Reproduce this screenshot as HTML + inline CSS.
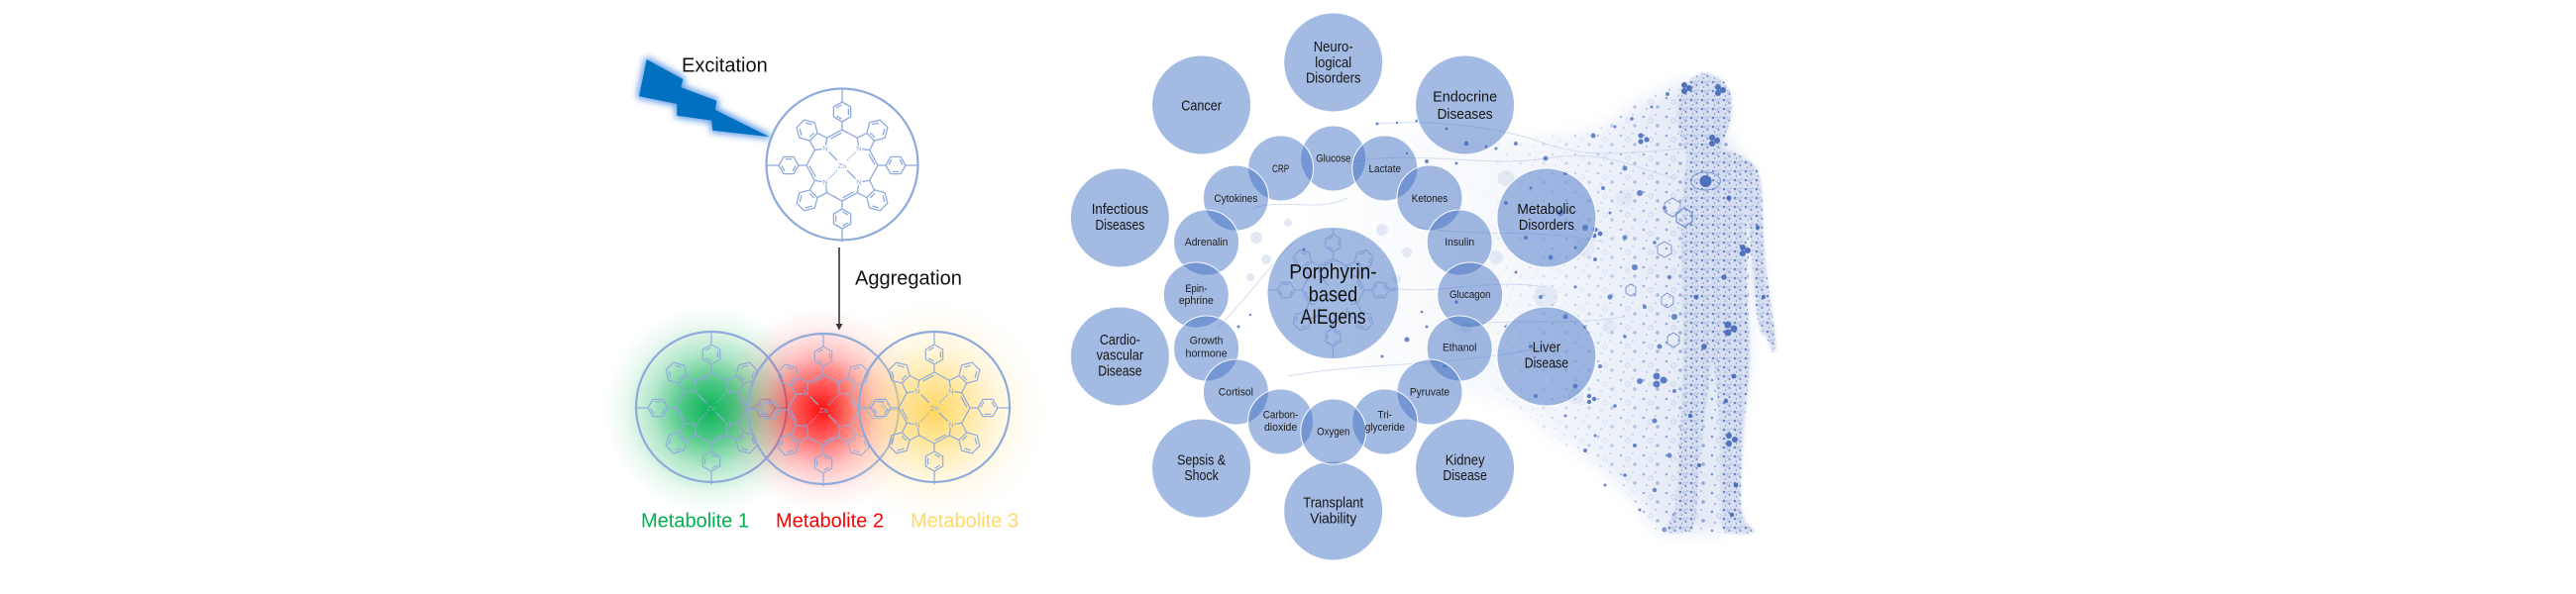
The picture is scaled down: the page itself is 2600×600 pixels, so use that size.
<!DOCTYPE html>
<html><head><meta charset="utf-8"><style>
html,body{margin:0;padding:0;background:#fff;}
svg{display:block;}
text{font-family:"Liberation Sans",Arial,sans-serif;}
</style></head><body>
<svg width="2600" height="600" viewBox="0 0 2600 600" xmlns="http://www.w3.org/2000/svg">
<defs>
 <radialGradient id="gG" cx="0.5" cy="0.5" r="0.5">
  <stop offset="0" stop-color="#00b050" stop-opacity="0.95"/>
  <stop offset="0.25" stop-color="#00b050" stop-opacity="0.72"/>
  <stop offset="0.55" stop-color="#00b050" stop-opacity="0.3"/>
  <stop offset="0.8" stop-color="#00b050" stop-opacity="0.08"/>
  <stop offset="1" stop-color="#00b050" stop-opacity="0"/>
 </radialGradient>
 <radialGradient id="gR" cx="0.5" cy="0.5" r="0.5">
  <stop offset="0" stop-color="#ff0000" stop-opacity="0.95"/>
  <stop offset="0.25" stop-color="#ff1010" stop-opacity="0.7"/>
  <stop offset="0.55" stop-color="#ff2020" stop-opacity="0.28"/>
  <stop offset="0.8" stop-color="#ff3030" stop-opacity="0.07"/>
  <stop offset="1" stop-color="#ff3030" stop-opacity="0"/>
 </radialGradient>
 <radialGradient id="gY" cx="0.5" cy="0.5" r="0.5">
  <stop offset="0" stop-color="#ffd14d" stop-opacity="0.9"/>
  <stop offset="0.3" stop-color="#ffd966" stop-opacity="0.6"/>
  <stop offset="0.6" stop-color="#ffe08a" stop-opacity="0.25"/>
  <stop offset="0.85" stop-color="#ffe8a8" stop-opacity="0.06"/>
  <stop offset="1" stop-color="#ffe8a8" stop-opacity="0"/>
 </radialGradient>
 <filter id="bglow" x="-40%" y="-60%" width="180%" height="220%">
  <feMorphology in="SourceAlpha" operator="dilate" radius="2" result="d"/>
  <feGaussianBlur in="d" stdDeviation="3.5" result="b"/>
  <feFlood flood-color="#5f9be6"/>
  <feComposite in2="b" operator="in" result="g"/>
  <feMerge><feMergeNode in="g"/><feMergeNode in="SourceGraphic"/></feMerge>
 </filter>
 <filter id="soft" x="-20%" y="-20%" width="140%" height="140%"><feGaussianBlur stdDeviation="8"/></filter>
 <filter id="soft2" x="-20%" y="-20%" width="140%" height="140%"><feGaussianBlur stdDeviation="1.5"/></filter>
 <linearGradient id="fanG" x1="1300" y1="0" x2="1710" y2="0" gradientUnits="userSpaceOnUse">
  <stop offset="0" stop-color="#f1f4fa" stop-opacity="0"/>
  <stop offset="0.5" stop-color="#f1f4fa" stop-opacity="0.6"/>
  <stop offset="1" stop-color="#e4eaf6" stop-opacity="1"/>
 </linearGradient>
 <linearGradient id="maskG" x1="1480" y1="0" x2="1720" y2="0" gradientUnits="userSpaceOnUse">
  <stop offset="0" stop-color="#fff" stop-opacity="0"/>
  <stop offset="0.6" stop-color="#fff" stop-opacity="0.35"/>
  <stop offset="1" stop-color="#fff" stop-opacity="0.7"/>
 </linearGradient>
 <mask id="fanMask" maskUnits="userSpaceOnUse" x="1200" y="0" width="600" height="600">
  <rect x="1200" y="0" width="600" height="600" fill="url(#maskG)"/>
 </mask>
 <pattern id="pf" width="23" height="19" patternUnits="userSpaceOnUse">
  <circle cx="3" cy="4" r="1.3" fill="#4f73c2"/>
  <circle cx="15" cy="2" r="0.8" fill="#4f73c2"/>
  <circle cx="17" cy="13" r="1.8" fill="#6a88cb"/>
  <circle cx="6" cy="15" r="0.9" fill="#4f73c2"/>
  <circle cx="10" cy="8" r="2.2" fill="none" stroke="#8aa2d6" stroke-width="0.6"/>
 </pattern>
 <pattern id="pb" width="11" height="9" patternUnits="userSpaceOnUse">
  <circle cx="2" cy="2" r="1.3" fill="#4a6bb8"/>
  <circle cx="7.5" cy="5" r="1.0" fill="#4a6bb8"/>
  <circle cx="3.5" cy="7" r="0.7" fill="#5676c0"/>
  <circle cx="9" cy="1" r="0.6" fill="#5676c0"/>
  <circle cx="6" cy="2.5" r="1.4" fill="none" stroke="#7d96d0" stroke-width="0.5"/>
 </pattern>
 <g id="q" fill="none" stroke-linejoin="round" stroke-linecap="round">
  <path d="M-20.7,-16.4 L-27.7,-15.3 L-32.6,-24.9 L-24.9,-32.6 L-15.3,-27.7 L-16.4,-20.7"/>
  <path d="M-15.3,-27.7 L0,-36 L15.3,-27.7"/>
  <path d="M-11,-27.2 L-1.1,-32.6"/>
  <path d="M-32.6,-24.9 L-43.1,-27.7 L-45.9,-38.2 L-38.2,-45.9 L-27.7,-43.1 L-24.9,-32.6"/>
  <path d="M-41.2,-30.9 L-42.7,-36.4 M-36.4,-42.7 L-30.9,-41.2 M-32.6,-28.6 L-28.6,-32.6"/>
  <path d="M0,-36 L0,-44 M0,-44 L8.66,-49 L8.66,-59 L0,-64 L-8.66,-59 L-8.66,-49 Z M0,-64 L0,-77"/>
  <path d="M6.4,-51.2 L6.4,-56.8 M-0.96,-60.85 L-5.44,-58.25 M-5.44,-49.75 L-0.96,-47.15"/>
 </g>
 <g id="mol">
  <use href="#q"/>
  <use href="#q" transform="rotate(90)"/>
  <use href="#q" transform="rotate(180)"/>
  <use href="#q" transform="rotate(270)"/>
  <path d="M-13.5,-13.5 L-5,-5 M13.5,13.5 L5,5" fill="none"/>
  <path d="M13.5,-13.5 L5,-5 M-13.5,13.5 L-5,5" fill="none" stroke-dasharray="1.3 1.3"/>
 </g>
 <clipPath id="cc"><circle cx="1345.5" cy="296" r="65"/></clipPath>
 <clipPath id="fanClip"><path d="M1705,80 L1660,100 L1610,132 L1540,140 L1450,130 L1380,135 L1330,160 L1290,200 L1265,260 L1275,320 L1310,360 L1380,380 L1460,395 L1500,403 L1533,413 L1567,440 L1610,470 L1647,503 L1673,537 L1710,538 L1740,538 L1765,360 L1765,170 Z"/></clipPath>
</defs>

<rect width="2600" height="600" fill="#fff"/>

<!-- ===== LEFT ===== -->
<polygon filter="url(#bglow)" fill="#0070c0" points="652.7,60 689.3,80 687.3,88.3 723.3,101.7 722,111 776.7,138.3 719.3,131.7 718.3,121.7 683.3,116.7 683.3,105 645,97.3"/>
<text x="688" y="72.5" font-size="20" fill="#111">Excitation</text>

<g transform="translate(850,167)" stroke="#8faadc" stroke-width="1.3">
 <use href="#mol"/>
</g>
<circle cx="850" cy="166" r="76.5" fill="none" stroke="#8eaadb" stroke-width="2.2"/>
<g font-size="7.5" fill="#8faadc" text-anchor="middle">
 <text x="833" y="152.7">N</text><text x="867" y="152.7">N</text>
 <text x="833" y="186.7">N</text><text x="867" y="186.7">N</text>
 <text x="850" y="170">Zn</text>
</g>

<line x1="847" y1="250" x2="847" y2="328" stroke="#333" stroke-width="1.6"/>
<polygon points="843.5,327 850.5,327 847,333.5" fill="#333"/>
<text x="863" y="287.3" font-size="20" fill="#111">Aggregation</text>

<circle cx="716" cy="414" r="106" fill="url(#gG)"/>
<g transform="translate(718,412)" stroke="#8faadc" stroke-width="1.25" opacity="0.9"><use href="#mol"/></g>
<circle cx="718" cy="411" r="76" fill="none" stroke="#8eaadb" stroke-width="2.2"/>
<g font-size="7.5" fill="#8faadc" text-anchor="middle">
 <text x="701" y="397.7">N</text><text x="735" y="397.7">N</text>
 <text x="701" y="431.7">N</text><text x="735" y="431.7">N</text>
 <text x="718" y="415">Zn</text>
</g>
<circle cx="829" cy="414" r="104" fill="url(#gR)"/>
<g transform="translate(831,414)" stroke="#8faadc" stroke-width="1.25" opacity="0.9"><use href="#mol"/></g>
<circle cx="831" cy="413" r="76" fill="none" stroke="#8eaadb" stroke-width="2.2"/>
<g font-size="7.5" fill="#8faadc" text-anchor="middle">
 <text x="814" y="399.7">N</text><text x="848" y="399.7">N</text>
 <text x="814" y="433.7">N</text><text x="848" y="433.7">N</text>
 <text x="831" y="417">Zn</text>
</g>
<circle cx="943" cy="416" r="115" fill="url(#gY)"/>
<g transform="translate(943,412)" stroke="#8faadc" stroke-width="1.25" opacity="0.95"><use href="#mol"/></g>
<circle cx="943" cy="411" r="76" fill="none" stroke="#8eaadb" stroke-width="2.2"/>
<g font-size="7.5" fill="#8faadc" text-anchor="middle">
 <text x="926" y="397.7">N</text><text x="960" y="397.7">N</text>
 <text x="926" y="431.7">N</text><text x="960" y="431.7">N</text>
 <text x="943" y="415">Zn</text>
</g>

<text x="647" y="532.7" font-size="20" fill="#00b050">Metabolite 1</text>
<text x="783" y="532.7" font-size="20" fill="#ff0000">Metabolite 2</text>
<text x="919" y="532.7" font-size="20" fill="#ffd966">Metabolite 3</text>

<!-- ===== RIGHT: fan + figure ===== -->
<path d="M1705,80 L1660,100 L1610,132 L1540,140 L1450,130 L1380,135 L1330,160 L1290,200 L1265,260 L1275,320 L1310,360 L1380,380 L1460,395 L1500,403 L1533,413 L1567,440 L1610,470 L1647,503 L1673,537 L1710,538 L1740,538 L1765,360 L1765,170 Z" fill="url(#fanG)" filter="url(#soft)"/>
<g fill="#e2e8f4">
 <circle cx="1600" cy="250" r="10"/><circle cx="1560" cy="300" r="12"/><circle cx="1640" cy="200" r="9"/>
 <circle cx="1520" cy="180" r="8"/><circle cx="1590" cy="400" r="8"/><circle cx="1625" cy="330" r="7"/>
 <circle cx="1268" cy="240" r="6"/><circle cx="1278" cy="262" r="5"/><circle cx="1262" cy="280" r="4"/>
 <circle cx="1300" cy="225" r="4"/><circle cx="1395" cy="232" r="6"/><circle cx="1420" cy="255" r="5"/>
 <circle cx="1410" cy="282" r="4"/><circle cx="1480" cy="330" r="6"/><circle cx="1510" cy="260" r="7"/>
</g>
<g fill="none" stroke="#d0d9ee" stroke-width="0.9">
 <path d="M1390,125 C1450,120 1520,130 1560,145 S1640,155 1700,150"/>
 <path d="M1360,165 C1420,150 1500,170 1560,160 S1650,170 1690,180"/>
 <path d="M1470,330 C1520,320 1580,330 1640,320"/>
 <path d="M1300,380 C1380,365 1460,372 1560,350"/>
 <path d="M1430,230 C1500,240 1560,230 1620,245"/>
 <path d="M1230,330 C1260,300 1280,270 1305,245"/>
 <path d="M1265,210 C1300,200 1330,215 1360,200"/>
 <path d="M1400,290 C1450,300 1500,280 1560,290"/>
</g>
<rect x="1380" y="90" width="400" height="460" fill="url(#pf)" mask="url(#fanMask)" clip-path="url(#fanClip)"/>
<g fill="#5b7cc4" opacity="0.9">
 <circle cx="1608" cy="137" r="2.5"/><circle cx="1630" cy="128" r="1.5"/><circle cx="1647" cy="120" r="1.8"/>
 <circle cx="1667" cy="108" r="1.5"/><circle cx="1683" cy="95" r="2"/><circle cx="1640" cy="170" r="2.5"/>
 <circle cx="1618" cy="190" r="2"/><circle cx="1655" cy="195" r="3"/><circle cx="1680" cy="210" r="2"/>
 <circle cx="1625" cy="215" r="1.5"/><circle cx="1600" cy="230" r="3"/><circle cx="1640" cy="240" r="2.5"/>
 <circle cx="1670" cy="245" r="1.8"/><circle cx="1610" cy="262" r="2"/><circle cx="1650" cy="270" r="3"/>
 <circle cx="1685" cy="280" r="2.2"/><circle cx="1590" cy="290" r="1.5"/><circle cx="1625" cy="300" r="2.5"/>
 <circle cx="1660" cy="310" r="2"/><circle cx="1690" cy="320" r="3"/><circle cx="1600" cy="330" r="2"/>
 <circle cx="1640" cy="340" r="1.8"/><circle cx="1675" cy="350" r="2.5"/><circle cx="1615" cy="370" r="2"/>
 <circle cx="1655" cy="385" r="3"/><circle cx="1690" cy="395" r="2"/><circle cx="1630" cy="410" r="1.8"/>
 <circle cx="1670" cy="425" r="2.5"/><circle cx="1610" cy="440" r="1.5"/><circle cx="1650" cy="450" r="2"/>
 <circle cx="1685" cy="460" r="2.5"/><circle cx="1640" cy="480" r="1.8"/><circle cx="1670" cy="495" r="2.2"/>
 <circle cx="1655" cy="515" r="1.5"/><circle cx="1690" cy="520" r="2"/><circle cx="1680" cy="535" r="2.5"/>
 <circle cx="1510" cy="150" r="1.5"/><circle cx="1530" cy="145" r="2"/><circle cx="1560" cy="160" r="2.5"/>
 <circle cx="1580" cy="175" r="2"/><circle cx="1545" cy="190" r="1.5"/><circle cx="1520" cy="205" r="2"/>
 <circle cx="1575" cy="215" r="3"/><circle cx="1540" cy="240" r="2"/><circle cx="1565" cy="260" r="2.5"/>
 <circle cx="1590" cy="250" r="1.5"/><circle cx="1530" cy="275" r="1.5"/><circle cx="1555" cy="300" r="2"/>
 <circle cx="1580" cy="320" r="2.5"/><circle cx="1520" cy="330" r="1.5"/><circle cx="1545" cy="350" r="2"/>
 <circle cx="1570" cy="370" r="1.5"/><circle cx="1590" cy="390" r="2.5"/><circle cx="1550" cy="400" r="2"/>
 <circle cx="1580" cy="420" r="1.5"/><circle cx="1600" cy="455" r="2"/><circle cx="1620" cy="490" r="1.5"/>
 <circle cx="1390" cy="125" r="1.5"/><circle cx="1410" cy="124" r="1.2"/><circle cx="1430" cy="122" r="1.5"/>
 <circle cx="1460" cy="130" r="1.5"/><circle cx="1480" cy="145" r="2.5"/><circle cx="1500" cy="148" r="1.5"/>
 <circle cx="1440" cy="163" r="2"/><circle cx="1470" cy="165" r="1.5"/><circle cx="1420" cy="155" r="1.2"/>
 <circle cx="1316" cy="252" r="1.5"/><circle cx="1250" cy="330" r="1.5"/><circle cx="1262" cy="318" r="1.2"/>
 <circle cx="1420" cy="343" r="2.5"/><circle cx="1395" cy="360" r="1.5"/><circle cx="1440" cy="330" r="1.5"/>
 <circle cx="1458" cy="370" r="1.5"/><circle cx="1470" cy="305" r="1.8"/><circle cx="1435" cy="315" r="1.3"/>
</g>
<g fill="#5b7cc4">
 <circle cx="1656" cy="137" r="2.6"/><circle cx="1662" cy="141" r="2.6"/><circle cx="1656" cy="143" r="2.6"/>
 <circle cx="1610" cy="232" r="2.4"/><circle cx="1615" cy="236" r="2.4"/><circle cx="1609" cy="238" r="2.4"/>
 <circle cx="1672" cy="380" r="3.5"/><circle cx="1679" cy="384" r="3.5"/><circle cx="1672" cy="388" r="3.5"/>
 <circle cx="1604" cy="400" r="2.2"/><circle cx="1609" cy="403" r="2.2"/><circle cx="1604" cy="406" r="2.2"/>
</g>
<g fill="none" stroke="#6f8dcc" stroke-width="0.9">
 <polygon points="1680,205 1688,200 1696,205 1696,214 1688,219 1680,214"/>
 <polygon points="1673,248 1680,244 1687,248 1687,256 1680,260 1673,256"/>
 <polygon points="1677,300 1683,296 1689,300 1689,307 1683,311 1677,307"/>
 <polygon points="1641,290 1646,287 1651,290 1651,296 1646,299 1641,296"/>
 <polygon points="1683,340 1689,336 1695,340 1695,347 1689,351 1683,347"/>
</g>

<path d="M1720,74 C1738,74 1750,90 1748,110 C1747,125 1742,135 1738,145 L1740,152 C1752,155 1768,160 1774,172 C1779,185 1779,210 1780,240 C1782,275 1787,300 1790,325 L1793,352 L1789,356 L1784,343 L1777,335 C1773,320 1771,300 1769,275 C1767,250 1765,225 1763,205 C1762,240 1762,290 1765,330 C1767,360 1766,380 1762,410 C1759,440 1757,480 1757,512 L1762,528 L1772,537 L1760,540 L1740,538 L1736,525 C1737,500 1736,470 1736,440 C1735,410 1733,385 1729,362 C1724,390 1717,440 1714,480 L1712,520 L1708,536 L1690,539 L1680,537 L1690,520 C1695,470 1697,420 1699,380 C1700,330 1698,280 1697,240 C1697,210 1700,180 1703,160 C1700,150 1695,135 1693,120 C1691,100 1700,78 1720,74 Z" fill="#d6def0" filter="url(#soft2)"/>
<path d="M1720,74 C1738,74 1750,90 1748,110 C1747,125 1742,135 1738,145 L1740,152 C1752,155 1768,160 1774,172 C1779,185 1779,210 1780,240 C1782,275 1787,300 1790,325 L1793,352 L1789,356 L1784,343 L1777,335 C1773,320 1771,300 1769,275 C1767,250 1765,225 1763,205 C1762,240 1762,290 1765,330 C1767,360 1766,380 1762,410 C1759,440 1757,480 1757,512 L1762,528 L1772,537 L1760,540 L1740,538 L1736,525 C1737,500 1736,470 1736,440 C1735,410 1733,385 1729,362 C1724,390 1717,440 1714,480 L1712,520 L1708,536 L1690,539 L1680,537 L1690,520 C1695,470 1697,420 1699,380 C1700,330 1698,280 1697,240 C1697,210 1700,180 1703,160 C1700,150 1695,135 1693,120 C1691,100 1700,78 1720,74 Z" fill="url(#pb)" opacity="0.75"/>
<g fill="#5070bc">
 <circle cx="1721.5" cy="183" r="6"/>
 <circle cx="1700" cy="86" r="3"/><circle cx="1705" cy="89" r="3"/><circle cx="1700" cy="92" r="3"/>
 <circle cx="1734" cy="88" r="3"/><circle cx="1739" cy="91" r="3"/><circle cx="1734" cy="94" r="3"/>
 <circle cx="1728" cy="139" r="3"/><circle cx="1733" cy="142" r="3"/><circle cx="1728" cy="145" r="3"/>
 <circle cx="1744" cy="328" r="3.5"/><circle cx="1750" cy="332" r="3.5"/><circle cx="1744" cy="336" r="3.5"/>
 <circle cx="1745" cy="440" r="3"/><circle cx="1751" cy="444" r="3"/><circle cx="1745" cy="448" r="3"/>
 <circle cx="1759" cy="250" r="3"/><circle cx="1764" cy="253" r="3"/><circle cx="1759" cy="256" r="3"/>
 <circle cx="1750" cy="380" r="2.5"/><circle cx="1742" cy="405" r="2.2"/><circle cx="1752" cy="490" r="2.4"/>
 <circle cx="1780" cy="300" r="2"/><circle cx="1774" cy="230" r="2.2"/><circle cx="1745" cy="200" r="2.5"/>
 <circle cx="1712" cy="300" r="2.4"/><circle cx="1720" cy="350" r="2.8"/><circle cx="1706" cy="420" r="2.2"/>
 <circle cx="1715" cy="470" r="2"/><circle cx="1748" cy="520" r="2.2"/><circle cx="1740" cy="280" r="2.6"/>
</g>
<ellipse cx="1721.5" cy="183" rx="15" ry="9" fill="none" stroke="#7a94cf" stroke-width="0.9"/>
<polygon points="1692,215 1700,210 1708,215 1708,224 1700,229 1692,224" fill="none" stroke="#6f8dcc" stroke-width="1.2"/>

<!-- ===== circles ===== -->
<g fill="#4472c4" fill-opacity="0.49" stroke="#ffffff" stroke-width="1.1" stroke-opacity="0.9">
 <circle cx="1345.5" cy="296" r="66.5"/>
 <circle cx="1345.7" cy="63" r="50"/>
 <circle cx="1212.6" cy="106" r="50"/>
 <circle cx="1478.6" cy="106" r="50"/>
 <circle cx="1130.4" cy="220" r="50"/>
 <circle cx="1560.9" cy="220" r="50"/>
 <circle cx="1130.4" cy="360" r="50"/>
 <circle cx="1560.9" cy="360" r="50"/>
 <circle cx="1212.6" cy="473" r="50"/>
 <circle cx="1478.6" cy="473" r="50"/>
 <circle cx="1345.7" cy="516" r="50"/>
 <circle cx="1345.8" cy="160" r="33"/>
 <circle cx="1292.6" cy="170" r="33"/>
 <circle cx="1397.8" cy="170" r="33"/>
 <circle cx="1247.4" cy="200" r="33"/>
 <circle cx="1443" cy="200" r="33"/>
 <circle cx="1217.6" cy="245" r="33"/>
 <circle cx="1473.2" cy="245" r="33"/>
 <circle cx="1207.3" cy="298" r="33"/>
 <circle cx="1483.7" cy="298" r="33"/>
 <circle cx="1217.6" cy="352" r="33"/>
 <circle cx="1473.2" cy="352" r="33"/>
 <circle cx="1247.4" cy="396" r="33"/>
 <circle cx="1443" cy="396" r="33"/>
 <circle cx="1292.6" cy="426" r="33"/>
 <circle cx="1397.8" cy="426" r="33"/>
 <circle cx="1345.8" cy="436" r="33"/>
</g>
<g clip-path="url(#cc)">
 <g transform="translate(1345.5,293) scale(0.88)" stroke="#6a8bd0" stroke-width="1.4" opacity="0.55"><use href="#mol"/></g>
</g>

<g fill="#151515" text-anchor="middle" font-size="15">
 <text x="1345.7" y="52" textLength="40" lengthAdjust="spacingAndGlyphs">Neuro-</text>
 <text x="1345.7" y="68" textLength="37" lengthAdjust="spacingAndGlyphs">logical</text>
 <text x="1345.7" y="83.5" textLength="55.5" lengthAdjust="spacingAndGlyphs">Disorders</text>
 <text x="1212.6" y="111.7" textLength="40.6" lengthAdjust="spacingAndGlyphs">Cancer</text>
 <text x="1478.6" y="102.7" textLength="65" lengthAdjust="spacingAndGlyphs">Endocrine</text>
 <text x="1478.6" y="120" textLength="56" lengthAdjust="spacingAndGlyphs">Diseases</text>
 <text x="1130.4" y="216" textLength="57.4" lengthAdjust="spacingAndGlyphs">Infectious</text>
 <text x="1130.4" y="232" textLength="49.7" lengthAdjust="spacingAndGlyphs">Diseases</text>
 <text x="1560.9" y="216" textLength="59" lengthAdjust="spacingAndGlyphs">Metabolic</text>
 <text x="1560.9" y="232" textLength="56" lengthAdjust="spacingAndGlyphs">Disorders</text>
 <text x="1130.4" y="348" textLength="41" lengthAdjust="spacingAndGlyphs">Cardio-</text>
 <text x="1130.4" y="363.3" textLength="47.5" lengthAdjust="spacingAndGlyphs">vascular</text>
 <text x="1130.4" y="379.3" textLength="44.4" lengthAdjust="spacingAndGlyphs">Disease</text>
 <text x="1560.9" y="355.7" textLength="28.3" lengthAdjust="spacingAndGlyphs">Liver</text>
 <text x="1560.9" y="371.7" textLength="44.4" lengthAdjust="spacingAndGlyphs">Disease</text>
 <text x="1212.6" y="469.3" textLength="49" lengthAdjust="spacingAndGlyphs">Sepsis &amp;</text>
 <text x="1212.6" y="485" textLength="34.4" lengthAdjust="spacingAndGlyphs">Shock</text>
 <text x="1478.6" y="469.3" textLength="39.8" lengthAdjust="spacingAndGlyphs">Kidney</text>
 <text x="1478.6" y="485" textLength="44.4" lengthAdjust="spacingAndGlyphs">Disease</text>
 <text x="1345.7" y="512.7" textLength="60.8" lengthAdjust="spacingAndGlyphs">Transplant</text>
 <text x="1345.7" y="528.3" textLength="47" lengthAdjust="spacingAndGlyphs">Viability</text>
</g>
<g fill="#202020" text-anchor="middle" font-size="11">
 <text x="1345.8" y="163.3" textLength="35.2" lengthAdjust="spacingAndGlyphs">Glucose</text>
 <text x="1292.6" y="174" textLength="17.2" lengthAdjust="spacingAndGlyphs">CRP</text>
 <text x="1397.8" y="174" textLength="32.5" lengthAdjust="spacingAndGlyphs">Lactate</text>
 <text x="1247.4" y="204" textLength="44" lengthAdjust="spacingAndGlyphs">Cytokines</text>
 <text x="1443" y="204" textLength="36.4" lengthAdjust="spacingAndGlyphs">Ketones</text>
 <text x="1217.6" y="248" textLength="43.5" lengthAdjust="spacingAndGlyphs">Adrenalin</text>
 <text x="1473.2" y="248" textLength="29.8" lengthAdjust="spacingAndGlyphs">Insulin</text>
 <text x="1207.3" y="295" textLength="22.2" lengthAdjust="spacingAndGlyphs">Epin-</text>
 <text x="1207.3" y="307" textLength="35.2" lengthAdjust="spacingAndGlyphs">ephrine</text>
 <text x="1483.7" y="301" textLength="41.5" lengthAdjust="spacingAndGlyphs">Glucagon</text>
 <text x="1217.6" y="347.5" textLength="33.7" lengthAdjust="spacingAndGlyphs">Growth</text>
 <text x="1217.6" y="360.3" textLength="42.1" lengthAdjust="spacingAndGlyphs">hormone</text>
 <text x="1473.2" y="354.3" textLength="34.4" lengthAdjust="spacingAndGlyphs">Ethanol</text>
 <text x="1247.4" y="399.3" textLength="35.2" lengthAdjust="spacingAndGlyphs">Cortisol</text>
 <text x="1443" y="399.3" textLength="40.2" lengthAdjust="spacingAndGlyphs">Pyruvate</text>
 <text x="1292.6" y="422.7" textLength="35.6" lengthAdjust="spacingAndGlyphs">Carbon-</text>
 <text x="1292.6" y="435" textLength="33.3" lengthAdjust="spacingAndGlyphs">dioxide</text>
 <text x="1345.8" y="439.3" textLength="33.3" lengthAdjust="spacingAndGlyphs">Oxygen</text>
 <text x="1397.8" y="422.7" textLength="14.5" lengthAdjust="spacingAndGlyphs">Tri-</text>
 <text x="1397.8" y="435" textLength="40.2" lengthAdjust="spacingAndGlyphs">glyceride</text>
</g>
<g fill="#111" text-anchor="middle" font-size="21">
 <text x="1345.5" y="281.7" textLength="88.4" lengthAdjust="spacingAndGlyphs">Porphyrin-</text>
 <text x="1345.5" y="304.3" textLength="49.5" lengthAdjust="spacingAndGlyphs">based</text>
 <text x="1345.5" y="327" textLength="65.8" lengthAdjust="spacingAndGlyphs">AIEgens</text>
</g>
</svg>
</body></html>
